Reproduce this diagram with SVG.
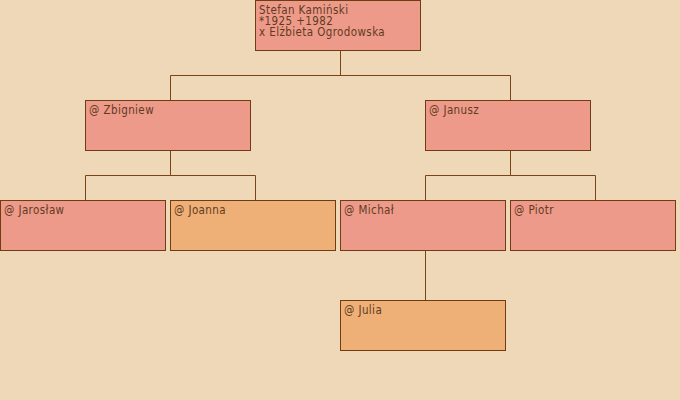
<svg xmlns="http://www.w3.org/2000/svg" width="680" height="400" viewBox="0 0 680 400">
<style>
.bg{fill:#EED8B8}
.m{fill:#EE9A8A;stroke:#6E3D14;stroke-width:1}
.f{fill:#EEB077;stroke:#6E3D14;stroke-width:1}
.c{fill:none;stroke:#7A4416;stroke-width:1}
text{font-family:"DejaVu Sans Condensed","DejaVu Sans",sans-serif;font-size:11.5px;letter-spacing:0.4px;fill:#603C1E}
</style>
<rect class="bg" x="0" y="0" width="680" height="400"/>
<g id="connectors">
<path class="c" d="M340.5 50V75.5M170.5 75.5H510.5M170.5 75.5V100M510.5 75.5V100"/>
<path class="c" d="M170.5 150V175.5M85.5 175.5H255.5M85.5 175.5V200M255.5 175.5V200"/>
<path class="c" d="M510.5 150V175.5M425.5 175.5H595.5M425.5 175.5V200M595.5 175.5V200"/>
<path class="c" d="M425.5 250V300"/>
</g>
<g id="stefan"><rect class="m" x="255.5" y="0.5" width="165" height="50"/>
<text x="259" y="14">Stefan Kamiński</text><text x="259" y="25">*1925 +1982</text><text x="259" y="36">x Elżbieta Ogrodowska</text></g>
<g id="zbigniew"><rect class="m" x="85.5" y="100.5" width="165" height="50"/><text x="89" y="114">@ Zbigniew</text></g>
<g id="janusz"><rect class="m" x="425.5" y="100.5" width="165" height="50"/><text x="429" y="114">@ Janusz</text></g>
<g id="jaroslaw"><rect class="m" x="0.5" y="200.5" width="165" height="50"/><text x="4" y="214">@ Jarosław</text></g>
<g id="joanna"><rect class="f" x="170.5" y="200.5" width="165" height="50"/><text x="174" y="214">@ Joanna</text></g>
<g id="michal"><rect class="m" x="340.5" y="200.5" width="165" height="50"/><text x="344" y="214">@ Michał</text></g>
<g id="piotr"><rect class="m" x="510.5" y="200.5" width="165" height="50"/><text x="514" y="214">@ Piotr</text></g>
<g id="julia"><rect class="f" x="340.5" y="300.5" width="165" height="50"/><text x="344" y="314">@ Julia</text></g>
</svg>
